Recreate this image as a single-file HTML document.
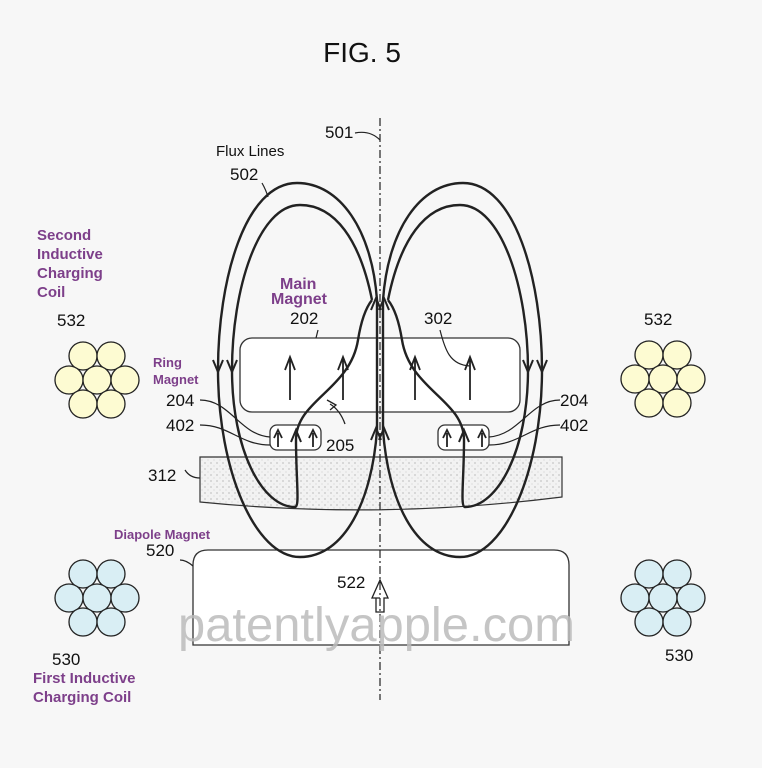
<!DOCTYPE html><html><head><style>body{margin:0;background:#f7f7f7}svg{display:block}</style></head><body>
<svg width="762" height="768" viewBox="0 0 762 768" font-family="Liberation Sans, sans-serif">
<defs>
<pattern id="dots" width="6" height="6" patternUnits="userSpaceOnUse"><rect width="6" height="6" fill="#f2f2f2"/><circle cx="1" cy="1" r="0.6" fill="#999"/><circle cx="4" cy="4" r="0.5" fill="#bbb"/></pattern>
<g id="half" fill="none" stroke="#222" stroke-width="2.4">
<path d="M377,300 C372,230 340,183 297,183 C245,183 218,280 218,370 C218,470 255,557 300,557 C345,557 372,500 377,430 Z"/>
<path d="M372,300 C360,240 335,205 300,205 C258,205 232,290 232,370 C232,450 262,507 295,507 C300,507 296,480 296,440 C296,400 350,390 358,340 C362,315 368,305 372,300"/>
<path d="M213,360 L218,372 L223,360" stroke-width="2"/>
<path d="M227,360 L232,372 L237,360" stroke-width="2"/>
<path d="M371,310 L376,298 L381,310" stroke-width="2"/>
<path d="M371,440 L376,428 L381,440" stroke-width="2"/>
<path d="M291,442 L296,430 L301,442" stroke-width="2"/>
</g>
<g id="coil" stroke="#222" stroke-width="1.3">
<circle cx="-14" cy="-24" r="14"/><circle cx="14" cy="-24" r="14"/>
<circle cx="-28" cy="0" r="14"/><circle cx="0" cy="0" r="14"/><circle cx="28" cy="0" r="14"/>
<circle cx="-14" cy="24" r="14"/><circle cx="14" cy="24" r="14"/>
</g>
</defs>
<text x="362" y="62" font-size="28" text-anchor="middle" fill="#111">FIG. 5</text>
<path d="M200,457 L562,457 L562,497 Q380,520 200,502 Z" fill="url(#dots)" stroke="#333" stroke-width="1.2"/>
<rect x="240" y="338" width="280" height="74" rx="12" fill="#fff" stroke="#333" stroke-width="1.3"/>
<rect x="270" y="425" width="51" height="25" rx="7" fill="#fff" stroke="#333" stroke-width="1.3"/>
<rect x="438" y="425" width="51" height="25" rx="7" fill="#fff" stroke="#333" stroke-width="1.3"/>
<path d="M193,645 L193,565 Q193,550 208,550 L554,550 Q569,550 569,565 L569,645 Z" fill="#fff" stroke="#333" stroke-width="1.3"/>
<use href="#half"/>
<use href="#half" transform="translate(760,0) scale(-1,1)"/>
<g stroke="#222" stroke-width="1.8" fill="none">
<path d="M290,400 V358 M285,370 L290,357 L295,370"/>
<path d="M343,400 V358 M338,370 L343,357 L348,370"/>
<path d="M415,400 V358 M410,370 L415,357 L420,370"/>
<path d="M470,400 V358 M465,370 L470,357 L475,370"/>
<path d="M278,447 V433 M274,438 L278,430 L282,438"/>
<path d="M313,447 V433 M309,438 L313,430 L317,438"/>
<path d="M447,447 V433 M443,438 L447,430 L451,438"/>
<path d="M482,447 V433 M478,438 L482,430 L486,438"/>
<path d="M380,598 L372,598 L380,580 L388,598 L384,598 L384,612 L376,612 L376,598" stroke-width="1.3"/>
<path d="M345,424 Q340,410 330,404" stroke-width="1.3"/><path d="M327,400 L336,405 L330,410" stroke-width="1.3" fill="none"/>
<path d="M200,400 C230,400 240,435 270,437" stroke-width="1.2"/>
<path d="M200,425 C230,425 240,445 270,445" stroke-width="1.2"/>
<path d="M560,400 C530,400 520,435 489,437" stroke-width="1.2"/>
<path d="M560,425 C530,425 520,445 489,445" stroke-width="1.2"/>
<path d="M318,330 Q316,338 316,338" stroke-width="1.2"/>
<path d="M440,330 C445,350 450,365 470,366" stroke-width="1.2"/>
<path d="M185,470 Q190,478 200,478" stroke-width="1.2"/>
<path d="M180,560 Q186,560 193,566" stroke-width="1.2"/>
<path d="M262,183 Q266,190 268,197" stroke-width="1.2"/>
<path d="M355,133 Q370,130 380,140" stroke-width="1.2"/>
</g>
<line x1="380" y1="118" x2="380" y2="700" stroke="#222" stroke-width="1.2" stroke-dasharray="8,3,2,3"/>
<g fill="#fdfbd2"><use href="#coil" transform="translate(97,380)"/><use href="#coil" transform="translate(663,379)"/></g>
<g fill="#d9eef4"><use href="#coil" transform="translate(97,598)"/><use href="#coil" transform="translate(663,598)"/></g>
<g fill="#111" font-size="17">
<text x="325" y="138">501</text>
<text x="216" y="156" font-size="15">Flux Lines</text>
<text x="230" y="180">502</text>
<text x="290" y="324">202</text>
<text x="424" y="324">302</text>
<text x="166" y="406">204</text>
<text x="166" y="431">402</text>
<text x="560" y="406">204</text>
<text x="560" y="431">402</text>
<text x="326" y="451">205</text>
<text x="148" y="481">312</text>
<text x="146" y="556">520</text>
<text x="337" y="588">522</text>
<text x="57" y="326">532</text>
<text x="644" y="325">532</text>
<text x="52" y="665">530</text>
<text x="665" y="661">530</text>
</g>
<g fill="#7d3f8a" font-weight="bold">
<text x="37" y="240" font-size="15">Second</text>
<text x="37" y="259" font-size="15">Inductive</text>
<text x="37" y="278" font-size="15">Charging</text>
<text x="37" y="297" font-size="15">Coil</text>
<text x="153" y="367" font-size="13">Ring</text>
<text x="153" y="384" font-size="13">Magnet</text>
<text x="280" y="289" font-size="16">Main</text>
<text x="271" y="304" font-size="16">Magnet</text>
<text x="114" y="539" font-size="13">Diapole Magnet</text>
<text x="33" y="683" font-size="15">First Inductive</text>
<text x="33" y="702" font-size="15">Charging Coil</text>
</g>
<text x="178" y="641" font-size="48" textLength="397" lengthAdjust="spacingAndGlyphs" fill="#bbb" fill-opacity="0.85">patentlyapple.com</text>
</svg></body></html>
